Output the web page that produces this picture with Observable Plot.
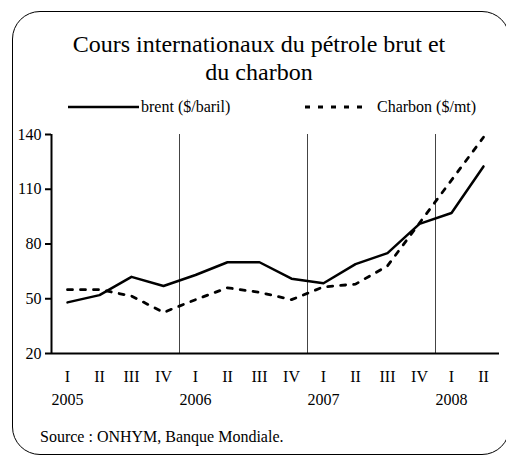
<!DOCTYPE html>
<html>
<head>
<meta charset="utf-8">
<script src="https://cdn.jsdelivr.net/npm/d3@7"></script>
<script src="https://cdn.jsdelivr.net/npm/@observablehq/plot@0.6"></script>
<style>
  body { margin: 0; background: #fff; }
  #wrap { position: relative; width: 506px; height: 458px; overflow: hidden;
          font-family: "Liberation Serif", "Times New Roman", serif; color: #000; }
  #frame { position: absolute; left: 12px; top: 11px; width: 498px; height: 444px;
           border: 1.5px solid #000; border-radius: 28px; box-sizing: border-box; }
  #title { position: absolute; left: 0; top: 30px; width: 518px; text-align: center;
           font-size: 24px; line-height: 28px; }
  #legend { position: absolute; left: 0; top: 95px; }
  #chart { position: absolute; left: 0; top: 115px; }
  #source { position: absolute; left: 40px; top: 429px; font-size: 16px; line-height: 16px; }
</style>
</head>
<body>
<div id="wrap">
  <div id="frame"></div>
  <div id="title">Cours internationaux du pétrole brut et<br>du charbon</div>
  <div id="legend"></div>
  <div id="chart"></div>
  <div id="source">Source : ONHYM, Banque Mondiale.</div>
</div>
<script>
// ---- data ----
const quarters = ["I","II","III","IV","I","II","III","IV","I","II","III","IV","I","II"];
const years = ["2005","2006","2007","2008"];
const yearStarts = [0, 4, 8, 12];
const brent = [48, 52, 62, 57, 63, 70, 70, 61, 58.5, 69, 75, 91, 97, 122.5];
const charbon = [55, 55, 51.5, 42.5, 49.5, 56, 53.5, 49.5, 56.5, 58, 68, 91.5, 115, 138.5];
const yTicks = [20, 50, 80, 110, 140];
const seriesNames = ["brent ($/baril)", "Charbon ($/mt)"];

const idx = quarters.map((q, i) => i);
const dataB = idx.map(i => ({i, v: brent[i]}));
const dataC = idx.map(i => ({i, v: charbon[i]}));
const xDomain = [-0.5, quarters.length - 0.5];

const chart = Plot.plot({
  width: 506,
  height: 300,
  marginTop: 19,
  marginBottom: 62,
  marginLeft: 51,
  marginRight: 7,
  style: {fontFamily: "'Liberation Serif', 'Times New Roman', serif", fontSize: "16px", color: "#000", background: "transparent", overflow: "visible"},
  x: {domain: xDomain},
  y: {domain: [yTicks[0], yTicks[yTicks.length - 1]]},
  marks: [
    Plot.ruleX(yearStarts.slice(1).map(i => i - 0.5), {stroke: "#444", strokeWidth: 1}),
    Plot.axisY({ticks: yTicks, tickSize: 6, tickPadding: 4, fontSize: 16, label: null, strokeWidth: 2}),
    Plot.axisX({ticks: idx, tickFormat: i => quarters[i], tickSize: 0, tickPadding: 17, fontSize: 16, label: null}),
    Plot.axisX({ticks: yearStarts, tickFormat: (d, i) => years[i], tickSize: 0, tickPadding: 40, fontSize: 16, label: null}),
    Plot.ruleX([xDomain[0]], {stroke: "#000", strokeWidth: 2}),
    Plot.ruleY([yTicks[0]], {stroke: "#000", strokeWidth: 2}),
    Plot.line(dataB, {x: "i", y: "v", stroke: "#000", strokeWidth: 2.5}),
    Plot.line(dataC, {x: "i", y: "v", stroke: "#000", strokeWidth: 2.8, strokeDasharray: "5,8"})
  ]
});
document.getElementById("chart").appendChild(chart);

// ---- legend ----
const lg = d3.select("#legend").append("svg").attr("width", 506).attr("height", 25);
lg.append("line").attr("x1", 68).attr("x2", 139).attr("y1", 12).attr("y2", 12)
  .attr("stroke", "#000").attr("stroke-width", 2.5);
lg.append("text").attr("x", 141).attr("y", 17).attr("font-size", 16)
  .attr("font-family", "'Liberation Serif', serif").text(seriesNames[0]);
lg.append("line").attr("x1", 305).attr("x2", 362).attr("y1", 12).attr("y2", 12)
  .attr("stroke", "#000").attr("stroke-width", 2.8).attr("stroke-dasharray", "5,8");
lg.append("text").attr("x", 377).attr("y", 17).attr("font-size", 16)
  .attr("font-family", "'Liberation Serif', serif").text(seriesNames[1]);
</script>
</body>
</html>
